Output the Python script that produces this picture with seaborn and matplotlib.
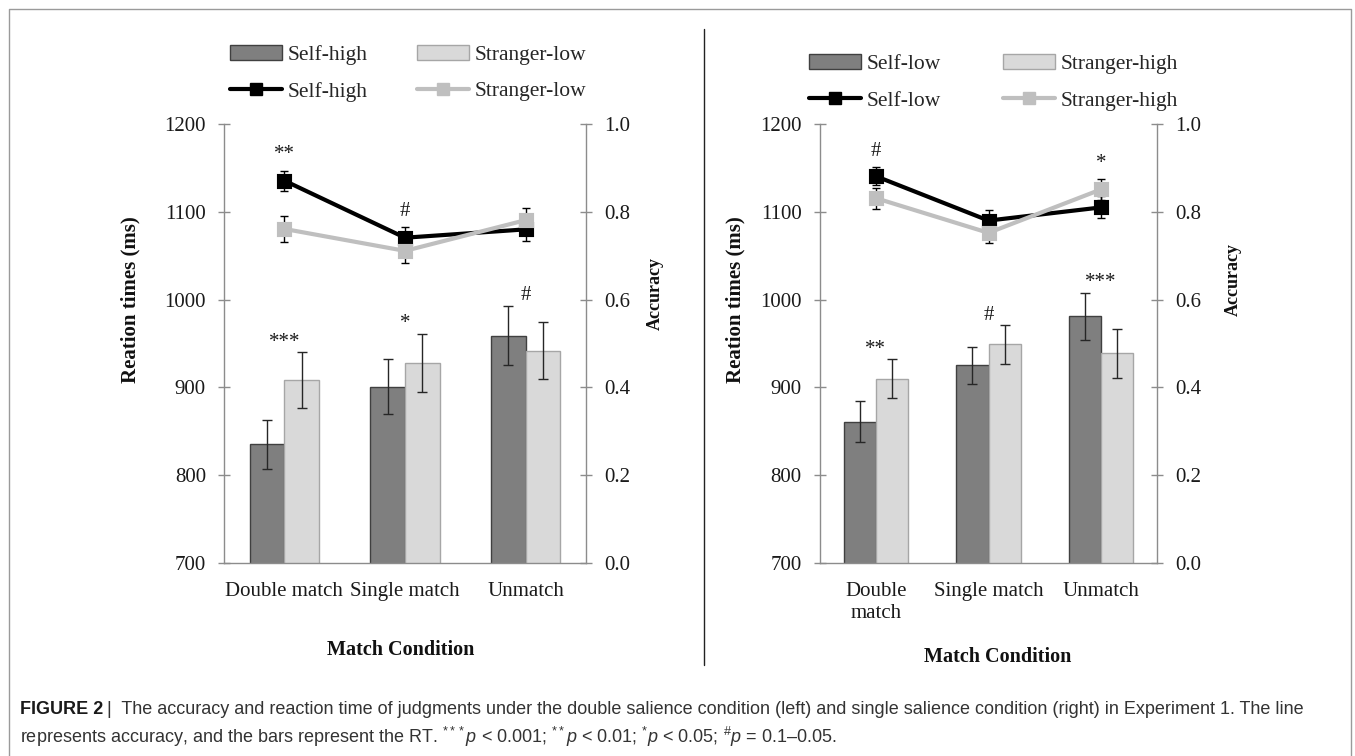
import matplotlib
matplotlib.use('Agg')
import matplotlib.pyplot as plt
import seaborn as sns
import pandas as pd
from matplotlib.patches import Patch
from matplotlib.lines import Line2D

# --- Data ---
conditions = ['Double match', 'Single match', 'Unmatch']

# left panel: double salience
left_groups = ['Self-high', 'Stranger-low']
left_rt_a = [835, 901, 959]
left_rt_a_se = [28, 31, 34]
left_rt_b = [908, 928, 942]
left_rt_b_se = [32, 33, 33]
left_acc_a = [0.871, 0.741, 0.760]
left_acc_a_se = [0.023, 0.024, 0.027]
left_acc_b = [0.761, 0.711, 0.781]
left_acc_b_se = [0.030, 0.028, 0.027]
left_bar_marks = ['***', '*', '#']
left_line_marks = ['**', '#', '']
left_ticklabels = ['Double match', 'Single match', 'Unmatch']

# right panel: single salience
right_groups = ['Self-low', 'Stranger-high']
right_rt_a = [861, 925, 981]
right_rt_a_se = [23, 21, 27]
right_rt_b = [910, 949, 939]
right_rt_b_se = [22, 22, 28]
right_acc_a = [0.881, 0.780, 0.810]
right_acc_a_se = [0.021, 0.024, 0.025]
right_acc_b = [0.831, 0.752, 0.851]
right_acc_b_se = [0.024, 0.024, 0.024]
right_bar_marks = ['**', '#', '***']
right_line_marks = ['#', '', '*']
right_ticklabels = ['Double\nmatch', 'Single match', 'Unmatch']

rt_ticks = [700, 800, 900, 1000, 1100, 1200]
acc_ticks = [0.0, 0.2, 0.4, 0.6, 0.8, 1.0]

# --- Style ---
sns.set_theme(style='white')
plt.rcParams['font.family'] = ['Liberation Serif', 'DejaVu Serif']
plt.rcParams['mathtext.fontset'] = 'custom'
plt.rcParams['mathtext.rm'] = 'Liberation Sans'
plt.rcParams['mathtext.it'] = 'Liberation Sans:italic'

W, H = 1355, 756
DARK, DARK_EDGE = '#7f7f7f', '#404040'
LIGHT, LIGHT_EDGE = '#d9d9d9', '#a6a6a6'
LINE_GREY = '#bfbfbf'
SPINE = '#8c8c8c'
FS = 15


def px(x, y):
    return x / W, 1 - y / H


def draw_panel(fig, rect, groups, rt_a, rt_a_se, rt_b, rt_b_se,
               acc_a, acc_a_se, acc_b, acc_b_se, bar_marks, line_marks,
               ticklabels, legend_xy, colspacing):
    ax = fig.add_axes(rect)
    bars = pd.DataFrame({
        'condition': conditions * 2,
        'group': [groups[0]] * 3 + [groups[1]] * 3,
        'rt': rt_a + rt_b,
    })
    sns.barplot(data=bars, x='condition', y='rt', hue='group', hue_order=groups,
                palette=[DARK, LIGHT], width=0.572, errorbar=None,
                linewidth=1, legend=False, ax=ax)
    for cont, edge, se in zip(ax.containers, [DARK_EDGE, LIGHT_EDGE], [rt_a_se, rt_b_se]):
        xs, hs = [], []
        for p in cont.patches:
            p.set_edgecolor(edge)
            xs.append(p.get_x() + p.get_width() / 2)
            hs.append(p.get_height())
        ax.errorbar(xs, hs, yerr=se, fmt='none', ecolor='#262626',
                    elinewidth=1, capsize=3.5, capthick=1, zorder=3)

    # significance marks over bar pairs
    for i, m in enumerate(bar_marks):
        if m:
            top = max(rt_a[i] + rt_a_se[i], rt_b[i] + rt_b_se[i])
            ax.annotate(m, (i, top), xytext=(0, 4), textcoords='offset points',
                        ha='center', va='baseline', fontsize=FS, color='#1a1a1a')

    ax.set_ylim(700, 1200)
    ax.set_yticks(rt_ticks)
    ax.set_xlim(-0.5, 2.5)
    ax.set_xticks(range(3))
    ax.set_xticklabels(ticklabels, fontsize=FS, linespacing=1.2)
    ax.set_xticks([-0.5, 0.5, 1.5, 2.5], minor=True)
    ax.set_xlabel('')
    ax.set_ylabel('')
    ax.tick_params(axis='x', which='major', length=0, pad=14, colors='#1a1a1a')
    ax.tick_params(axis='x', which='minor', length=4.5, width=1, color=SPINE, direction='out')
    ax.tick_params(axis='y', length=8, width=1, color=SPINE, direction='inout',
                   pad=9, labelsize=FS, labelcolor='#1a1a1a', left=True)
    for s in ['top', 'right']:
        ax.spines[s].set_visible(False)
    for s in ['left', 'bottom']:
        ax.spines[s].set_color(SPINE)
        ax.spines[s].set_linewidth(1)

    # accuracy lines on the twin axis
    ax2 = ax.twinx()
    acc = pd.DataFrame({
        'condition': conditions * 2,
        'group': [groups[0]] * 3 + [groups[1]] * 3,
        'acc': acc_a + acc_b,
    })
    ax2.errorbar(range(3), acc_a, yerr=acc_a_se, fmt='none', ecolor='black',
                 elinewidth=1, capsize=3, capthick=1, zorder=1)
    ax2.errorbar(range(3), acc_b, yerr=acc_b_se, fmt='none', ecolor='black',
                 elinewidth=1, capsize=3, capthick=1, zorder=1)
    sns.pointplot(data=acc, x='condition', y='acc', hue='group', hue_order=groups,
                  palette=['black', LINE_GREY], markers='s', errorbar=None,
                  dodge=False, legend=False, ax=ax2, linewidth=3, markersize=8.5)
    for i, m in enumerate(line_marks):
        if m:
            top = max(acc_a[i] + acc_a_se[i], acc_b[i] + acc_b_se[i])
            ax2.annotate(m, (i, top), xytext=(0, 8), textcoords='offset points',
                         ha='center', va='baseline', fontsize=FS, color='#1a1a1a')
    ax2.set_ylim(0, 1)
    ax2.set_yticks(acc_ticks)
    ax2.set_yticklabels([f'{t:.1f}' for t in acc_ticks])
    ax2.set_xlim(-0.5, 2.5)
    ax2.set_ylabel('')
    ax2.set_xlabel('')
    ax2.tick_params(axis='y', length=8, width=1, color=SPINE, direction='inout',
                    pad=9, labelsize=FS, labelcolor='#1a1a1a', right=True)
    for s in ['top', 'left', 'bottom']:
        ax2.spines[s].set_visible(False)
    ax2.spines['right'].set_color(SPINE)
    ax2.spines['right'].set_linewidth(1)

    handles = [
        Patch(facecolor=DARK, edgecolor=DARK_EDGE, linewidth=1),
        Line2D([], [], color='black', marker='s', lw=3, markersize=8.5),
        Patch(facecolor=LIGHT, edgecolor=LIGHT_EDGE, linewidth=1),
        Line2D([], [], color=LINE_GREY, marker='s', lw=3, markersize=8.5),
    ]
    labels = [groups[0], groups[0], groups[1], groups[1]]
    fig.legend(handles, labels, loc='upper left', bbox_to_anchor=px(*legend_xy),
               ncol=2, frameon=False, fontsize=15.5, borderpad=0, borderaxespad=0,
               handlelength=2.4, handleheight=0.65, handletextpad=0.28,
               columnspacing=colspacing, labelspacing=0.78)
    return ax, ax2


fig = plt.figure(figsize=(W / 100, H / 100), dpi=100)

# left panel
l0, b0 = px(224, 563)
draw_panel(fig, [l0, b0, 362 / W, 439 / H], left_groups,
           left_rt_a, left_rt_a_se, left_rt_b, left_rt_b_se,
           left_acc_a, left_acc_a_se, left_acc_b, left_acc_b_se,
           left_bar_marks, left_line_marks, left_ticklabels,
           (230, 45), 2.3)
# right panel
l1, b1 = px(819.7, 563)
draw_panel(fig, [l1, b1, 337.6 / W, 439 / H], right_groups,
           right_rt_a, right_rt_a_se, right_rt_b, right_rt_b_se,
           right_acc_a, right_acc_a_se, right_acc_b, right_acc_b_se,
           right_bar_marks, right_line_marks, right_ticklabels,
           (809, 54.5), 2.9)

# axis titles
for x, y in [(130, 300), (735, 300)]:
    fig.text(*px(x, y), 'Reation times (ms)', rotation=90, ha='center', va='center',
             fontsize=FS, fontweight='bold', color='#111111')
for x, y in [(655, 294), (1233, 280)]:
    fig.text(*px(x, y), 'Accuracy', rotation=90, ha='center', va='center',
             fontsize=13, fontweight='bold', color='#111111')
for x, y in [(401, 650), (998, 657)]:
    fig.text(*px(x, y), 'Match Condition', ha='center', va='center',
             fontsize=14.5, fontweight='bold', color='#111111')

# frame and separator
fig.add_artist(Line2D([9 / W, 9 / W, 1351 / W, 1351 / W], [-0.01, 1 - 9 / H, 1 - 9 / H, -0.01],
                      color='#9a9a9a', lw=1, transform=fig.transFigure))
fig.add_artist(Line2D([703.5 / W, 703.5 / W], [1 - 29 / H, 1 - 665 / H],
                      color='#222222', lw=1, transform=fig.transFigure))

# caption
cap_font = ['Liberation Sans', 'DejaVu Sans']
t1 = fig.text(*px(20, 710), 'FIGURE 2', ha='left', va='center', fontsize=13,
              fontweight='bold', family=cap_font, color='#1a1a1a')
fig.canvas.draw()
bb = t1.get_window_extent()
fig.text(bb.x1 / W + 4 / W, 1 - 710 / H,
         '|  The accuracy and reaction time of judgments under the double salience condition (left) '
         'and single salience condition (right) in Experiment 1. The line',
         ha='left', va='center', fontsize=13, family=cap_font, color='#333333')
fig.text(*px(20, 737),
         r'represents accuracy, and the bars represent the RT. $^{***}\mathit{p}$ < 0.001; '
         r'$^{**}\mathit{p}$ < 0.01; $^{*}\mathit{p}$ < 0.05; $^{\#}\mathit{p}$ = 0.1–0.05.',
         ha='left', va='center', fontsize=13, family=cap_font, color='#333333')

fig.savefig('out.png', dpi=100)
